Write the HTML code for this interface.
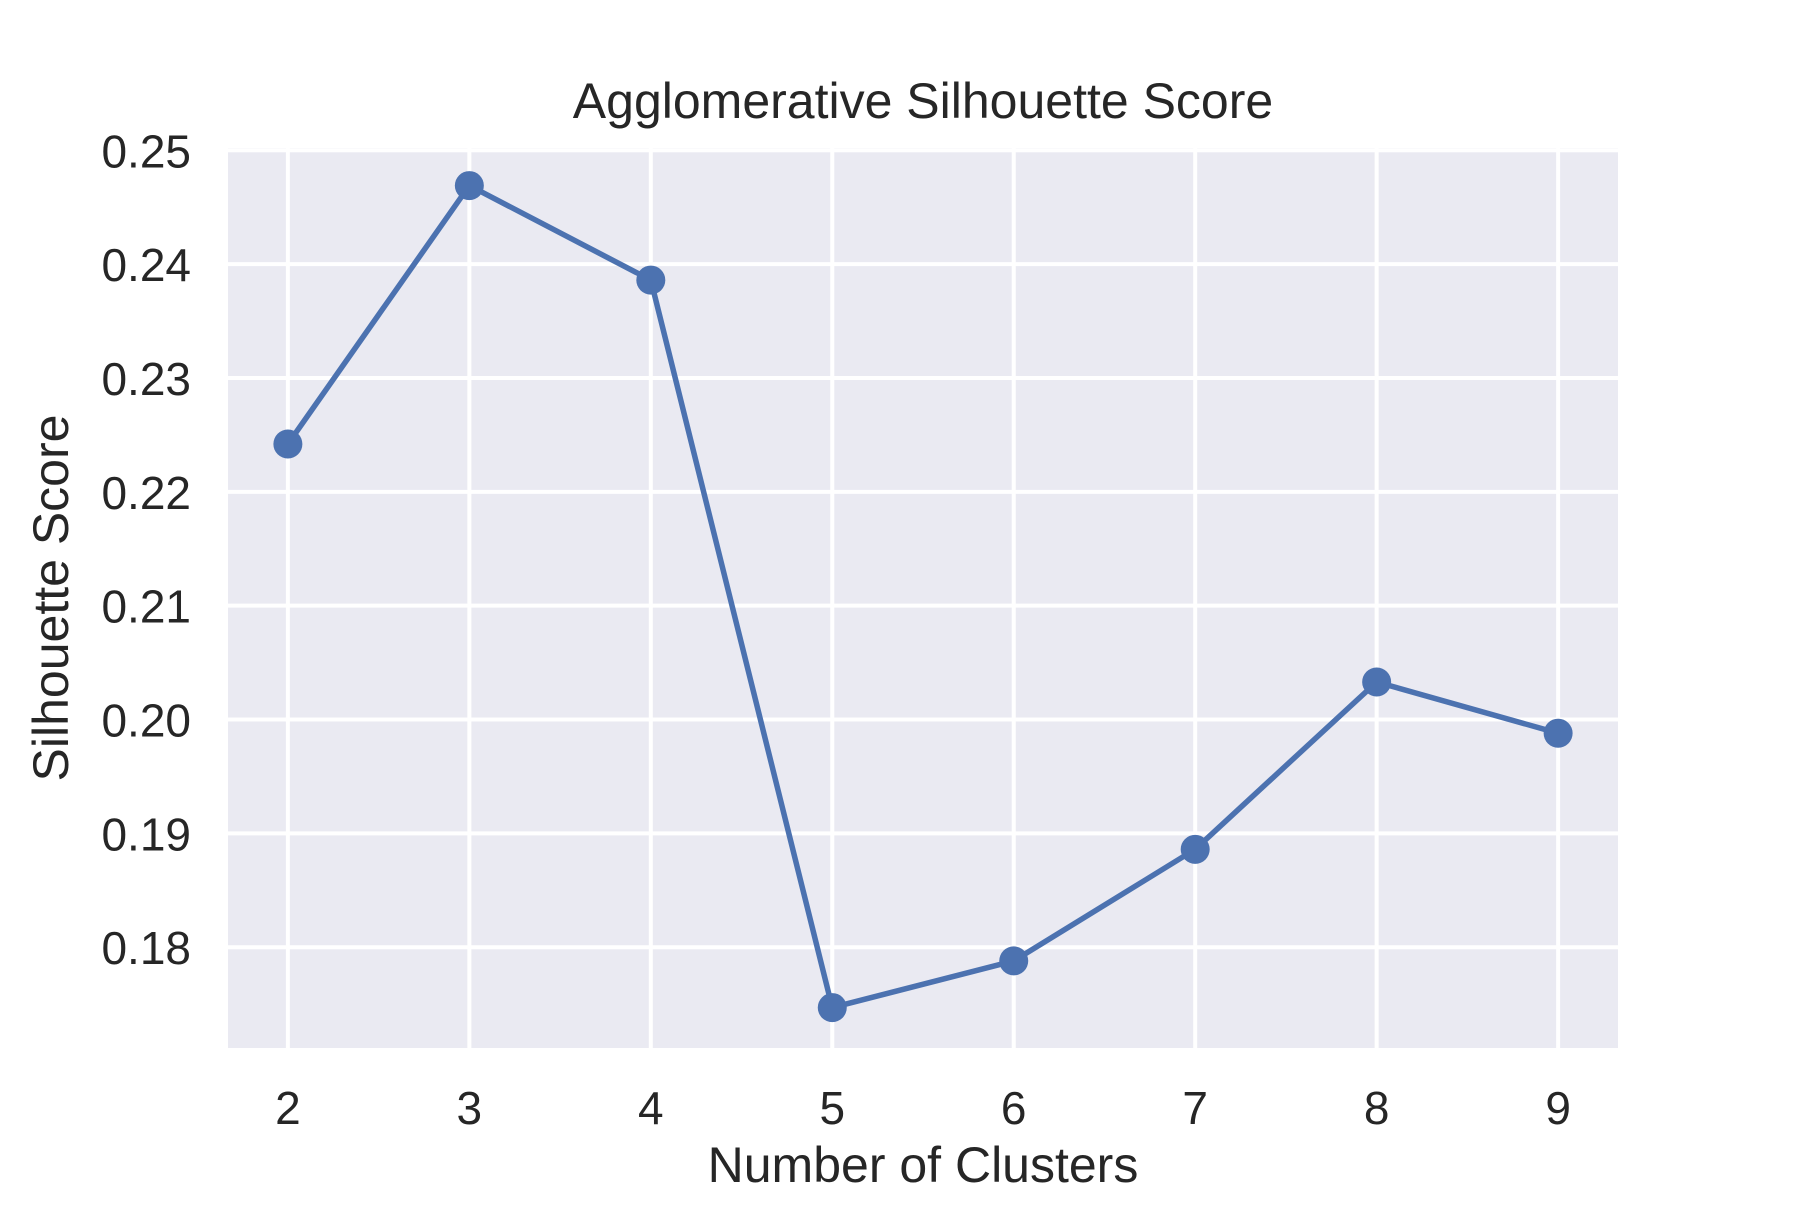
<!DOCTYPE html>
<html><head><meta charset="utf-8"><style>
html,body{margin:0;padding:0;background:#fff;}
svg text{font-family:"Liberation Sans",Arial,sans-serif;fill:#262626;}
</style></head><body>
<svg id="chart" width="1800" height="1200" viewBox="0 0 1800 1200" xmlns="http://www.w3.org/2000/svg">
<rect width="1800" height="1200" fill="#fff"/>
<rect x="228" y="148" width="1390" height="900" fill="#eaeaf2"/>
<g id="grid"></g>
<g id="ticks"></g>
<g id="series"></g>
<text x="923" y="118" font-size="50" text-anchor="middle">Agglomerative Silhouette Score</text>
<text x="923" y="1182" font-size="50" text-anchor="middle">Number of Clusters</text>
<text x="68" y="598" font-size="50" text-anchor="middle" transform="rotate(-90 68 598)">Silhouette Score</text>
</svg>
<script>
const clusters = [2, 3, 4, 5, 6, 7, 8, 9];
const scores = [0.2242, 0.2469, 0.2386, 0.1747, 0.1788, 0.1886, 0.2033, 0.1988];
const yTicks = [0.18, 0.19, 0.20, 0.21, 0.22, 0.23, 0.24, 0.25];
const yTickLabels = ["0.18", "0.19", "0.20", "0.21", "0.22", "0.23", "0.24", "0.25"];

const L = 228, R = 1618, T = 148, B = 1048;
const xMin = 1.67, xMax = 9.33, yMin = 0.17115, yMax = 0.2502;
const xs = v => L + (v - xMin) / (xMax - xMin) * (R - L);
const ys = v => B - (v - yMin) / (yMax - yMin) * (B - T);
const NS = "http://www.w3.org/2000/svg";
function mk(tag, attrs, parent) {
  const e = document.createElementNS(NS, tag);
  for (const k in attrs) e.setAttribute(k, attrs[k]);
  parent.appendChild(e);
  return e;
}
const grid = document.getElementById('grid');
const ticks = document.getElementById('ticks');
const series = document.getElementById('series');

yTicks.forEach((v, i) => {
  const y = ys(v);
  const g = mk('line', {x1: L, x2: R, y1: y, y2: y, stroke: '#fff', 'stroke-width': 4}, grid);
  
  
  const t = mk('text', {x: 191, y: y + 17, 'font-size': 46, 'text-anchor': 'end'}, ticks);
  t.textContent = yTickLabels[i];
  
  
});
clusters.forEach(c => {
  const x = xs(c);
  const g = mk('line', {x1: x, x2: x, y1: T, y2: B, stroke: '#fff', 'stroke-width': 4}, grid);
  
  
  const t = mk('text', {x: x, y: 1124, 'font-size': 46, 'text-anchor': 'middle'}, ticks);
  t.textContent = String(c);
  
  
});
const pts = clusters.map((c, i) => xs(c) + ',' + ys(scores[i])).join(' ');
const line = mk('polyline', {points: pts, fill: 'none', stroke: '#4c72b0', 'stroke-width': 5.5, 'stroke-linejoin': 'round', 'stroke-linecap': 'round'}, series);


clusters.forEach((c, i) => {
  const p = mk('circle', {cx: xs(c), cy: ys(scores[i]), r: 14.5, fill: '#4c72b0'}, series);
  
  
});
</script>
</body></html>
